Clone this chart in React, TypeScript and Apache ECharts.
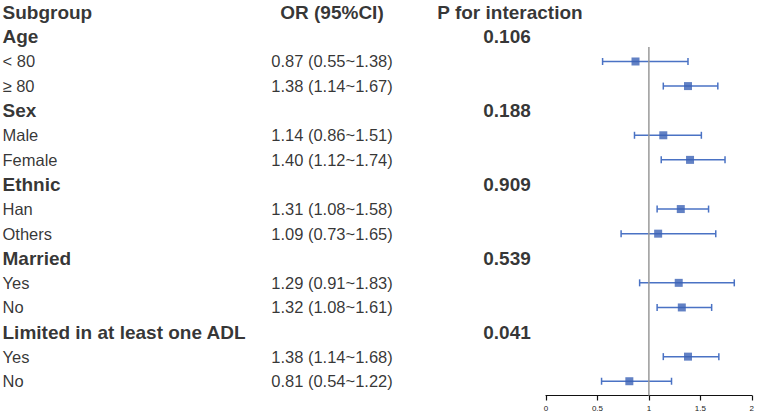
import React, { useEffect, useRef } from "react";
import * as echarts from "echarts";

const headers = ["Subgroup", "OR (95%CI)", "P for interaction"];
const rowLabels = ["Age", "< 80", "≥ 80", "Sex", "Male", "Female", "Ethnic", "Han", "Others", "Married", "Yes", "No", "Limited in at least one ADL", "Yes", "No"];
const isGroup = [true, false, false, true, false, false, true, false, false, true, false, false, true, false, false];
const orValues = [null, 0.87, 1.38, null, 1.14, 1.40, null, 1.31, 1.09, null, 1.29, 1.32, null, 1.38, 0.81];
const lowerCI = [null, 0.55, 1.14, null, 0.86, 1.12, null, 1.08, 0.73, null, 0.91, 1.08, null, 1.14, 0.54];
const upperCI = [null, 1.38, 1.67, null, 1.51, 1.74, null, 1.58, 1.65, null, 1.83, 1.61, null, 1.68, 1.22];
const pValues = ["0.106", null, null, "0.188", null, null, "0.909", null, null, "0.539", null, null, "0.041", null, null];
const xTicks = [0, 0.5, 1, 1.5, 2];
const refValue = 1;

const FONT = "Arial, 'Liberation Sans', sans-serif";
const W = 757;
const H = 415;
const Y_MIN = -0.5;
const Y_MAX = 15.58;
const GRID_H = 395.5;

export default function App() {
  const ref = useRef<HTMLDivElement>(null);
  useEffect(() => {
    if (!ref.current) return;
    const chart = echarts.init(ref.current, null, { renderer: "svg" });

    const fmt = (v: number) => v.toFixed(2);
    const textData: any[] = [];
    textData.push({ value: [2, 0, headers[0]], label: { position: "right", distance: 0, fontWeight: "bold", fontSize: 19 } });
    textData.push({ value: [332, 0, headers[1]], label: { position: "inside", fontWeight: "bold", fontSize: 19 } });
    textData.push({ value: [510, 0, headers[2]], label: { position: "inside", fontWeight: "bold", fontSize: 19 } });
    rowLabels.forEach((lab, i) => {
      const row = i + 1;
      textData.push({
        value: [2, row, lab],
        label: { position: "right", distance: 0, fontWeight: isGroup[i] ? "bold" : "normal", fontSize: isGroup[i] ? 19 : 16.5 },
      });
      if (orValues[i] != null) {
        textData.push({
          value: [332, row, `${fmt(orValues[i] as number)} (${fmt(lowerCI[i] as number)}~${fmt(upperCI[i] as number)})`],
          label: { position: "inside", fontSize: 16.5 },
        });
      }
      if (pValues[i] != null) {
        textData.push({ value: [507, row, pValues[i]], label: { position: "inside", fontWeight: "bold", fontSize: 19 } });
      }
    });

    const ciData: any[] = [];
    const ptData: any[] = [];
    orValues.forEach((v, i) => {
      if (v == null) return;
      ciData.push([lowerCI[i], upperCI[i], i + 1]);
      ptData.push([v, i + 1]);
    });

    const option: any = {
      animation: false,
      grid: [
        { left: 0, top: 0, width: W, height: GRID_H },
        { left: 546, top: 0, width: 207, height: GRID_H },
      ],
      xAxis: [
        { gridIndex: 0, type: "value", min: 0, max: W, show: false },
        {
          gridIndex: 1,
          type: "value",
          min: 0,
          max: 2,
          interval: 0.5,
          axisLine: { show: true, onZero: false, lineStyle: { color: "#111", width: 1.2 } },
          axisTick: { show: true, length: 5, lineStyle: { color: "#111", width: 1.2 } },
          axisLabel: { color: "#222", fontSize: 8, fontFamily: FONT, margin: 9, formatter: (v: number) => (xTicks.includes(v) ? String(v) : "") },
          splitLine: { show: false },
        },
      ],
      yAxis: [
        { gridIndex: 0, type: "value", min: Y_MIN, max: Y_MAX, inverse: true, show: false },
        { gridIndex: 1, type: "value", min: Y_MIN, max: Y_MAX, inverse: true, show: false },
      ],
      series: [
        {
          type: "scatter",
          xAxisIndex: 0,
          yAxisIndex: 0,
          symbolSize: 1,
          itemStyle: { color: "transparent" },
          label: {
            show: true,
            color: "#000",
            fontFamily: FONT,
            formatter: (p: any) => p.value[2],
          },
          data: textData,
          silent: true,
        },
        {
          type: "line",
          xAxisIndex: 1,
          yAxisIndex: 1,
          symbol: "none",
          lineStyle: { color: "#999", width: 1.5 },
          data: [[refValue, 1.41], [refValue, Y_MAX]],
          silent: true,
        },
        {
          type: "custom",
          xAxisIndex: 1,
          yAxisIndex: 1,
          data: ciData,
          renderItem: (params: any, api: any) => {
            const y = api.value(2);
            const p1 = api.coord([api.value(0), y]);
            const p2 = api.coord([api.value(1), y]);
            const cap = 3.5;
            const style = { stroke: "#4a72c4", lineWidth: 1.5, fill: "none" };
            return {
              type: "group",
              children: [
                { type: "line", shape: { x1: p1[0], y1: p1[1], x2: p2[0], y2: p2[1] }, style },
                { type: "line", shape: { x1: p1[0], y1: p1[1] - cap, x2: p1[0], y2: p1[1] + cap }, style },
                { type: "line", shape: { x1: p2[0], y1: p2[1] - cap, x2: p2[0], y2: p2[1] + cap }, style },
              ],
            };
          },
          silent: true,
        },
        {
          type: "scatter",
          xAxisIndex: 1,
          yAxisIndex: 1,
          symbol: "rect",
          symbolSize: 8,
          itemStyle: { color: "#3b62b5" },
          data: ptData,
          silent: true,
        },
      ],
    };
    chart.setOption(option);
    return () => chart.dispose();
  }, []);
  return <div ref={ref} style={{ position: "fixed", left: 0, top: 0, width: W, height: H, background: "#fff" }} />;
}
